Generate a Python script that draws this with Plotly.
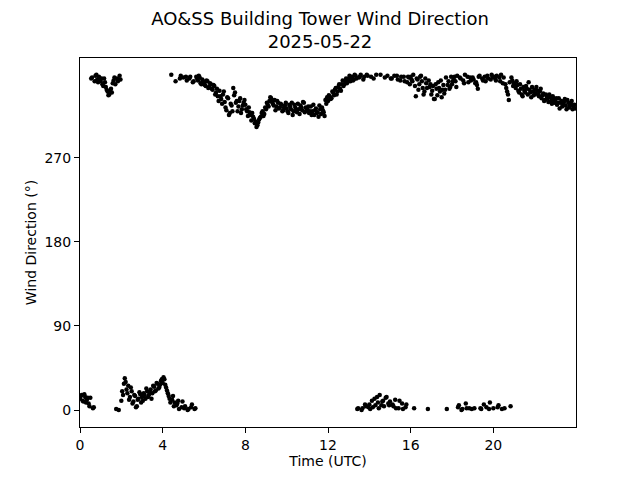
import plotly.graph_objects as go

# Wind direction (degrees).
# Main samples every 5 minutes starting 00:00; "half" samples offset by 2.5 minutes.
step_minutes = 5

dir_00_06 = [
    12, 16, 9, 14, 11, 7, 13, 356, 3, 358, 354, 357,        # 00h
    352, 349, 355, 346, 341, 338, 344, 350, 356, 1, 352, 358,  # 01h
    10, 16, 34, 22, 26, 14, 20, 9, 15, 4, 12, 17,            # 02h
    14, 18, 12, 20, 16, 22, 18, 25, 21, 28, 24, 31,          # 03h
    29, 33, 24, 18, 12, 359, 15, 8, 5, 10, 355, 3,           # 04h
    356, 4, 353, 1, 357, 6, 352, 2, 355, 358, 350, 354,      # 05h
]
dir_06_12 = [
    350, 347, 352, 346, 349, 343, 347, 340, 336, 342, 333, 338,  # 06h
    330, 321, 334, 318, 326, 345, 340, 331, 325, 334, 322, 329,  # 07h
    327, 320, 324, 316, 318, 312, 309, 305, 311, 314, 320, 317,  # 08h
    322, 327, 331, 334, 328, 332, 325, 329, 324, 327, 321, 326,  # 09h
    323, 318, 325, 329, 320, 324, 319, 322, 326, 321, 329, 324,  # 10h
    322, 318, 325, 320, 316, 323, 319, 326, 317, 321, 315, 328,  # 11h
]
dir_12_18 = [
    331, 336, 334, 340, 343, 338, 346, 344, 349, 347, 352, 350,  # 12h
    355, 352, 357, 354, 358, 1, 356, 359, 2, 357, 4, 358,        # 13h
    6, 357, 3, 12, 359, 8, 16, 5, 10, 356, 14, 7,                # 14h
    9, 355, 4, 11, 358, 2, 353, 7, 357, 3, 351, 356,             # 15h
    357, 352, 2, 336, 354, 349, 358, 345, 341, 350, 1, 346,      # 16h
    338, 347, 333, 344, 351, 341, 335, 348, 343, 1, 352, 346,    # 17h
]
dir_18_24 = [
    349, 354, 352, 358, 5, 355, 1, 350, 7, 357, 2, 353,          # 18h
    356, 2, 351, 344, 358, 1, 353, 357, 3, 355, 8, 359,          # 19h
    2, 355, 358, 5, 352, 1, 356, 349, 341, 332, 4, 353,          # 20h
    350, 345, 348, 340, 344, 336, 342, 347, 338, 343, 335, 341,  # 21h
    343, 346, 338, 341, 334, 339, 332, 336, 330, 335, 328, 333,  # 22h
    331, 327, 334, 329, 325, 330, 326, 332, 324, 328, 322, 327,  # 23h
]

half_00_06 = [
    15, 10, 17, 8, 13, 4, 355, 2, 352, 359, 351, 355,        # 00h
    355, 347, 351, 343, 337, 342, 340, 353, 349, 355, 0, 354,  # 01h
    20, 28, 30, 18, 11, 24, 7, 16, 3, 11, 19, 8,             # 02h
    10, 16, 23, 14, 19, 12, 26, 20, 29, 23, 27, 33,          # 03h
    35, 27, 21, 15, 8, 11, 4, 352, 7, 1, 358, 9,             # 04h
    2, 357, 0, 355, 3, 351, 1, 357, 353, 356, 349, 352,      # 05h
]
half_06_12 = [
    348, 353, 345, 350, 344, 348, 338, 344, 331, 336, 328, 341,  # 06h
    324, 335, 316, 328, 320, 337, 329, 320, 331, 318, 326, 332,  # 07h
    322, 315, 319, 310, 314, 307, 303, 308, 313, 318, 315, 324,  # 08h
    329, 325, 335, 330, 326, 321, 331, 323, 328, 320, 324, 329,  # 09h
    320, 327, 322, 316, 327, 321, 328, 317, 324, 330, 319, 321,  # 10h
    325, 320, 316, 327, 321, 318, 314, 322, 324, 319, 332, 335,  # 11h
]
half_12_18 = [
    337, 333, 341, 337, 345, 341, 349, 342, 353, 349, 355, 353,  # 12h
    358, 356, 353, 359, 355, 2, 357, 0, 354, 6, 359, 3,          # 13h
    1, 10, 355, 5, 14, 2, 359, 9, 4, 13, 358, 5,                 # 14h
    355, 6, 358, 2, 354, 10, 357, 1, 352, 6, 357, 349,           # 15h
    354, 359, 347, 355, 343, 357, 352, 338, 355, 345, 353, 349,  # 16h
    342, 333, 349, 337, 345, 353, 343, 339, 356, 348, 344, 357,  # 17h
]
half_18_24 = [
    352, 357, 346, 3, 356, 0, 353, 359, 2, 351, 356, 1,          # 18h
    354, 350, 348, 357, 2, 355, 6, 352, 358, 1, 354, 357,        # 19h
    357, 353, 3, 356, 359, 350, 2, 345, 338, 351, 356, 347,      # 20h
    347, 352, 342, 349, 338, 346, 340, 344, 351, 340, 346, 337,  # 21h
    339, 342, 336, 344, 337, 331, 338, 334, 338, 331, 336, 329,  # 22h
    334, 329, 323, 331, 328, 333, 322, 329, 326, 331, 325, 323,  # 23h
]

main_dirs = dir_00_06 + dir_06_12 + dir_12_18 + dir_18_24
half_dirs = half_00_06 + half_06_12 + half_12_18 + half_18_24
main_times = [i * step_minutes / 60.0 for i in range(len(main_dirs))]
half_times = [(i + 0.5) * step_minutes / 60.0 for i in range(len(half_dirs))]

times = main_times + half_times
directions = main_dirs + half_dirs

x_ticks = [0, 4, 8, 12, 16, 20]
y_ticks = [0, 90, 180, 270]

fig = go.Figure()
fig.add_trace(go.Scatter(
    x=times, y=directions, mode="markers",
    marker=dict(color="black", size=4.5),
    hoverinfo="x+y", showlegend=False,
))

font_family = "DejaVu Sans"
fig.update_layout(
    width=632, height=472,
    paper_bgcolor="white", plot_bgcolor="white",
    margin=dict(l=72, r=64, t=50, b=53, autoexpand=False),
    font=dict(family=font_family, size=14, color="black"),
    title=dict(
        text="AO&SS Building Tower Wind Direction<br>2025-05-22",
        x=0.4937, xref="container", xanchor="center",
        y=0.964, yref="container", yanchor="top",
        font=dict(size=18, family=font_family, color="black"),
    ),
    showlegend=False,
)

fig.update_xaxes(
    range=[0, 24], tickvals=x_ticks, ticktext=[str(t) for t in x_ticks],
    showline=True, linecolor="black", linewidth=1, mirror=True,
    ticks="outside", ticklen=5, tickcolor="black", showgrid=False, zeroline=False,
    title=dict(text="Time (UTC)", font=dict(size=14), standoff=4),
    automargin=False,
)
fig.update_yaxes(
    range=[-18.2, 377], tickvals=y_ticks, ticktext=[str(t) for t in y_ticks],
    showline=True, linecolor="black", linewidth=1, mirror=True,
    ticks="outside", ticklen=5, tickcolor="black", showgrid=False, zeroline=False,
    title=dict(text="Wind Direction (°)", font=dict(size=14), standoff=4),
    automargin=False,
)

fig.write_html("out.html")
